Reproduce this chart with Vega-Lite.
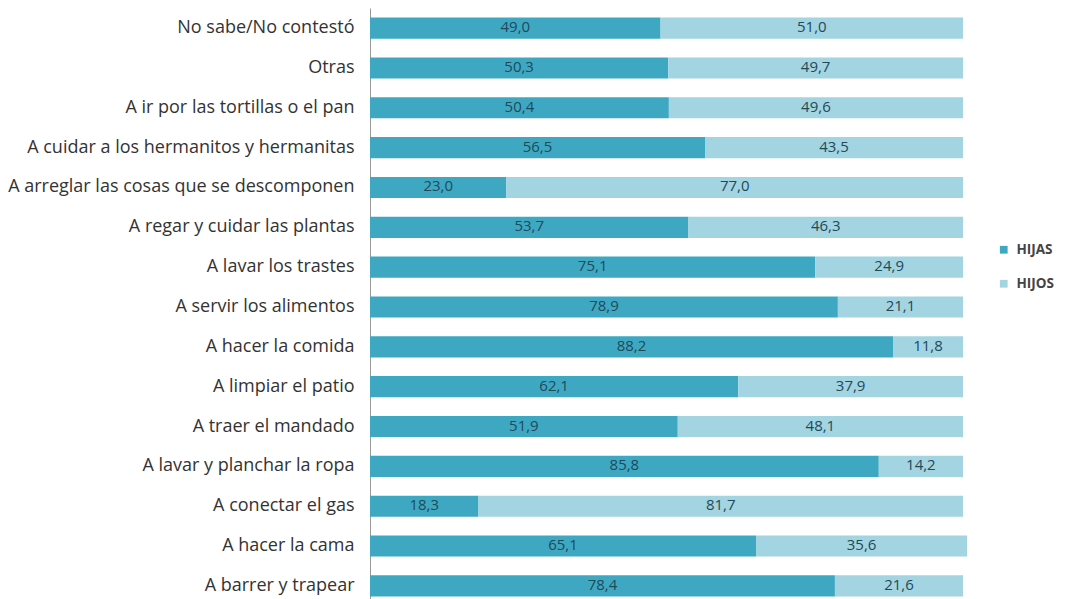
{
  "$schema": "https://vega.github.io/schema/vega-lite/v6.json",
  "autosize": {"type": "none"},
  "width": 593,
  "height": 598,
  "padding": {"left": 370, "top": 8, "right": 115, "bottom": 0},
  "background": "white",
  "config": {
    "view": {"stroke": null},
    "locale": {"number": {"decimal": ",", "thousands": ".", "grouping": [3], "currency": ["", ""]}},
    "font": "Open Sans"
  },
  "data": {
    "values": [
      {"cat": "No sabe/No contestó", "grupo": "HIJAS", "value": 49.0, "ord": 1},
      {"cat": "No sabe/No contestó", "grupo": "HIJOS", "value": 51.0, "ord": 2},
      {"cat": "Otras", "grupo": "HIJAS", "value": 50.3, "ord": 1},
      {"cat": "Otras", "grupo": "HIJOS", "value": 49.7, "ord": 2},
      {"cat": "A ir por las tortillas o el pan", "grupo": "HIJAS", "value": 50.4, "ord": 1},
      {"cat": "A ir por las tortillas o el pan", "grupo": "HIJOS", "value": 49.6, "ord": 2},
      {"cat": "A cuidar a los hermanitos y hermanitas", "grupo": "HIJAS", "value": 56.5, "ord": 1},
      {"cat": "A cuidar a los hermanitos y hermanitas", "grupo": "HIJOS", "value": 43.5, "ord": 2},
      {"cat": "A arreglar las cosas que se descomponen", "grupo": "HIJAS", "value": 23.0, "ord": 1},
      {"cat": "A arreglar las cosas que se descomponen", "grupo": "HIJOS", "value": 77.0, "ord": 2},
      {"cat": "A regar y cuidar las plantas", "grupo": "HIJAS", "value": 53.7, "ord": 1},
      {"cat": "A regar y cuidar las plantas", "grupo": "HIJOS", "value": 46.3, "ord": 2},
      {"cat": "A lavar los trastes", "grupo": "HIJAS", "value": 75.1, "ord": 1},
      {"cat": "A lavar los trastes", "grupo": "HIJOS", "value": 24.9, "ord": 2},
      {"cat": "A servir los alimentos", "grupo": "HIJAS", "value": 78.9, "ord": 1},
      {"cat": "A servir los alimentos", "grupo": "HIJOS", "value": 21.1, "ord": 2},
      {"cat": "A hacer la comida", "grupo": "HIJAS", "value": 88.2, "ord": 1},
      {"cat": "A hacer la comida", "grupo": "HIJOS", "value": 11.8, "ord": 2},
      {"cat": "A limpiar el patio", "grupo": "HIJAS", "value": 62.1, "ord": 1},
      {"cat": "A limpiar el patio", "grupo": "HIJOS", "value": 37.9, "ord": 2},
      {"cat": "A traer el mandado", "grupo": "HIJAS", "value": 51.9, "ord": 1},
      {"cat": "A traer el mandado", "grupo": "HIJOS", "value": 48.1, "ord": 2},
      {"cat": "A lavar y planchar la ropa", "grupo": "HIJAS", "value": 85.8, "ord": 1},
      {"cat": "A lavar y planchar la ropa", "grupo": "HIJOS", "value": 14.2, "ord": 2},
      {"cat": "A conectar el gas", "grupo": "HIJAS", "value": 18.3, "ord": 1},
      {"cat": "A conectar el gas", "grupo": "HIJOS", "value": 81.7, "ord": 2},
      {"cat": "A hacer la cama", "grupo": "HIJAS", "value": 65.1, "ord": 1},
      {"cat": "A hacer la cama", "grupo": "HIJOS", "value": 35.6, "ord": 2},
      {"cat": "A barrer y trapear", "grupo": "HIJAS", "value": 78.4, "ord": 1},
      {"cat": "A barrer y trapear", "grupo": "HIJOS", "value": 21.6, "ord": 2}
    ]
  },
  "transform": [
    {"stack": "value", "groupby": ["cat"], "sort": [{"field": "ord", "order": "ascending"}], "as": ["v0", "v1"]},
    {"calculate": "(datum.v0 + datum.v1) / 2", "as": "mid"}
  ],
  "encoding": {
    "y": {
      "field": "cat",
      "type": "nominal",
      "sort": null,
      "title": null,
      "scale": {"paddingInner": 0.47, "paddingOuter": 0.24},
      "axis": {
        "ticks": false,
        "labelFontSize": 18,
        "labelColor": "#333333",
        "labelPadding": 16,
        "labelLimit": 0,
        "domainColor": "#999999",
        "domainWidth": 1,
        "labelFont": "Open Sans"
      }
    }
  },
  "layer": [
    {
      "mark": {"type": "bar"},
      "encoding": {
        "x": {"field": "v0", "type": "quantitative", "scale": {"domain": [0, 100], "nice": false}, "axis": null},
        "x2": {"field": "v1"},
        "color": {
          "field": "grupo",
          "type": "nominal",
          "scale": {"domain": ["HIJAS", "HIJOS"], "range": ["#3ea8c2", "#a2d4e1"]},
          "legend": {
            "title": null,
            "orient": "none",
            "legendX": 627,
            "legendY": 235,
            "symbolType": "square",
            "symbolSize": 60,
            "labelFontSize": 13.5,
            "labelFontWeight": "bold",
            "labelColor": "#444444",
            "rowPadding": 19,
            "labelOffset": 6
          }
        }
      }
    },
    {
      "mark": {"type": "text", "fontSize": 15, "color": "#1f4a5a", "baseline": "middle", "dy": -1},
      "encoding": {
        "x": {"field": "mid", "type": "quantitative"},
        "text": {"field": "value", "type": "quantitative", "format": ".1f"}
      }
    }
  ]
}
